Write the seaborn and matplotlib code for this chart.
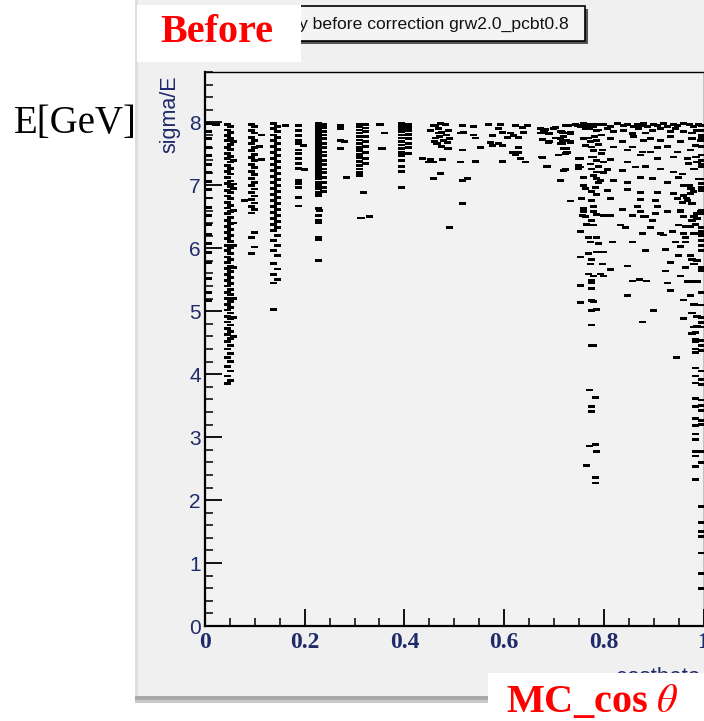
import matplotlib
matplotlib.use("Agg")
import matplotlib.pyplot as plt
from matplotlib.patches import Rectangle
from matplotlib.ticker import FixedLocator, MultipleLocator
import pandas as pd
import seaborn as sns

# ---------------- data: sigma/E versus MC cos(theta) ----------------
# narrow vertical bands at fixed cos(theta)
band_x = [0.006, 0.045, 0.051, 0.057, 0.093, 0.099, 0.138, 0.145, 0.187,
          0.227, 0.237, 0.310, 0.322, 0.395, 0.408, 0.997, 0.984]
band_y = [
    [7.98, 7.86, 7.74, 7.60, 7.47, 7.33, 7.20, 7.06, 6.93, 6.80, 6.65, 6.52,
     6.38, 6.22, 6.08, 5.93, 5.78, 5.52, 5.30, 5.17],
    [7.97, 7.88, 7.79, 7.71, 7.60, 7.51, 7.42, 7.31, 7.22, 7.12, 7.03, 6.92,
     6.83, 6.73, 6.64, 6.55, 6.44, 6.35, 6.25, 6.16, 6.05, 5.96, 5.86, 5.77,
     5.68, 5.58, 5.49, 5.40, 5.30, 5.20, 5.11, 5.02, 4.92, 4.83, 4.72, 4.63,
     4.52, 4.40, 4.27, 4.12, 3.97, 3.85],
    [7.93, 7.84, 7.74, 7.65, 7.57, 7.46, 7.37, 7.27, 7.18, 7.07, 6.98, 6.88,
     6.79, 6.68, 6.58, 6.49, 6.39, 6.30, 6.20, 6.11, 6.01, 5.92, 5.82, 5.72,
     5.63, 5.54, 5.44, 5.35, 5.26, 5.16, 5.06, 4.97, 4.88, 4.78, 4.68, 4.57,
     4.46, 4.33, 4.20, 4.05, 3.90],
    [7.70, 7.40, 7.02, 6.95, 6.60, 6.40, 6.05, 5.70, 5.20, 4.90, 4.60],
    [7.97, 7.87, 7.76, 7.66, 7.55, 7.44, 7.33, 7.22, 7.11, 7.00, 6.88, 6.78,
     6.66, 6.56, 6.17, 5.92],
    [7.93, 7.83, 7.71, 7.60, 7.49, 7.40, 7.28, 7.17, 7.05, 6.94, 6.83, 6.72,
     6.61, 6.25, 6.02],
    [7.98, 7.90, 7.80, 7.71, 7.62, 7.52, 7.43, 7.33, 7.24, 7.14, 7.05, 6.95,
     6.86, 6.76, 6.66, 6.57, 6.47, 6.38, 6.28, 6.12, 5.97, 5.76, 5.58, 5.45],
    [7.94, 7.85, 7.76, 7.66, 7.57, 7.47, 7.38, 7.28, 7.19, 7.09, 7.00, 6.90,
     6.81, 6.71, 6.62, 6.52, 6.43, 6.33, 6.20, 6.05, 5.88, 5.67, 5.50],
    [7.95, 7.87, 7.79, 7.71, 7.67, 7.56, 7.51, 7.43, 7.35, 7.27, 7.08, 7.03,
     6.97, 6.81, 6.67],
    [7.98, 7.95, 7.91, 7.87, 7.84, 7.80, 7.76, 7.72, 7.68, 7.64, 7.60, 7.56,
     7.52, 7.48, 7.44, 7.40, 7.36, 7.31, 7.27, 7.23, 7.19, 7.14, 7.10, 7.05,
     7.00, 6.95, 6.88, 6.84, 6.63, 6.52, 6.44, 6.40, 6.17, 6.13, 5.81],
    [7.97, 7.92, 7.86, 7.80, 7.74, 7.67, 7.60, 7.53, 7.47, 7.40, 7.33, 7.26,
     7.20, 7.12, 7.05, 6.97, 6.90],
    [7.97, 7.93, 7.88, 7.83, 7.77, 7.72, 7.66, 7.60, 7.55, 7.49, 7.44, 7.38,
     7.32, 7.26, 7.20, 7.15],
    [7.96, 7.91, 7.85, 7.78, 7.70, 7.62, 7.52, 7.42, 7.35],
    [7.98, 7.94, 7.90, 7.85, 7.80, 7.75, 7.70, 7.64, 7.58, 7.52, 7.47, 7.40,
     7.30, 7.22, 6.97],
    [7.97, 7.92, 7.87, 7.81, 7.74, 7.67, 7.60, 7.50],
    [7.95, 7.87, 7.80, 7.76, 7.62, 7.48, 7.40, 7.33, 7.29, 7.10, 7.03, 6.96,
     6.92, 6.60, 6.55, 6.33, 6.27, 6.20, 6.12, 6.05, 5.97, 5.70, 5.65, 5.30,
     5.10, 4.90, 4.82, 4.75, 4.54, 4.46, 4.38, 4.05, 3.92, 3.84, 3.59, 3.50,
     3.42, 3.27, 3.20, 2.77, 2.60, 1.90, 1.65, 1.50, 1.42, 1.16, 0.83, 0.60],
    [4.66, 4.55, 4.51, 4.40, 4.35, 4.10, 3.97, 3.86, 3.61, 3.49, 3.30, 3.19,
     3.05, 2.96, 2.77, 2.70, 2.53, 2.33],
]

# isolated entries at small cos(theta)
left_pts = [
    (0.022, 7.96), (0.080, 6.76), (0.114, 7.80), (0.114, 7.41), (0.110, 7.62),
    (0.137, 5.03), (0.161, 7.95), (0.197, 7.63), (0.200, 7.25),
    (0.230, 6.60), (0.271, 7.95), (0.271, 7.90), (0.271, 7.71), (0.271, 7.59),
    (0.284, 7.13), (0.280, 7.70), (0.318, 6.89), (0.313, 6.48), (0.330, 6.50),
    (0.351, 7.97), (0.361, 7.83), (0.355, 7.59),
]

# entries between cos(theta) 0.43 and 0.75
mid_pts = [
    (0.462, 7.95), (0.468, 7.90), (0.475, 7.84), (0.470, 7.78), (0.478, 7.72),
    (0.465, 7.66), (0.482, 7.96), (0.488, 7.87), (0.484, 7.80), (0.490, 7.74),
    (0.474, 7.62), (0.460, 7.70), (0.486, 7.68), (0.458, 7.95), (0.472, 7.98),
    (0.452, 7.87), (0.468, 7.83), (0.462, 7.75), (0.478, 7.71), (0.486, 7.59),
    (0.466, 7.67), (0.452, 7.41), (0.448, 7.37), (0.436, 7.43),
    (0.516, 7.95), (0.538, 7.94), (0.518, 7.84), (0.512, 7.83), (0.538, 7.80),
    (0.542, 7.75), (0.568, 7.97), (0.592, 7.97), (0.588, 7.90), (0.596, 7.84),
    (0.576, 7.79), (0.612, 7.83), (0.618, 7.79), (0.629, 7.76), (0.622, 7.95),
    (0.647, 7.95), (0.637, 7.92), (0.639, 7.84), (0.673, 7.90), (0.683, 7.89),
    (0.673, 7.83), (0.687, 7.83), (0.703, 7.92), (0.717, 7.84), (0.723, 7.83),
    (0.729, 7.95), (0.747, 7.95), (0.733, 7.84), (0.572, 7.68), (0.576, 7.63),
    (0.588, 7.67), (0.596, 7.63), (0.606, 7.76), (0.629, 7.60), (0.552, 7.60),
    (0.677, 7.73), (0.689, 7.68), (0.703, 7.75), (0.717, 7.71), (0.717, 7.67),
    (0.733, 7.68), (0.488, 7.59), (0.516, 7.56), (0.616, 7.52), (0.629, 7.52),
    (0.622, 7.48), (0.633, 7.43), (0.643, 7.37), (0.596, 7.38), (0.542, 7.38),
    (0.512, 7.37), (0.458, 7.37), (0.476, 7.41), (0.677, 7.44), (0.709, 7.48),
    (0.719, 7.59), (0.727, 7.52), (0.749, 7.43), (0.472, 7.19), (0.458, 7.11),
    (0.516, 7.08), (0.526, 7.11), (0.687, 7.30), (0.723, 7.25), (0.713, 7.08),
    (0.749, 7.32), (0.749, 7.27), (0.516, 6.71), (0.733, 6.75), (0.490, 6.33),
    (0.680, 7.87), (0.700, 7.90), (0.690, 7.82), (0.713, 7.85), (0.720, 7.77),
    (0.733, 7.69), (0.690, 7.69), (0.713, 7.66), (0.726, 7.58), (0.723, 7.50),
    (0.676, 7.45), (0.686, 7.30), (0.713, 7.08),
]

# entries at large cos(theta)
right_pts = [
    (0.723, 7.95), (0.743, 7.97), (0.753, 7.93), (0.760, 7.98), (0.766, 7.95),
    (0.773, 7.97), (0.780, 7.93), (0.786, 7.96), (0.800, 7.97), (0.813, 7.94),
    (0.827, 7.98), (0.840, 7.95), (0.847, 7.97), (0.860, 7.93), (0.867, 7.97),
    (0.874, 7.95), (0.880, 7.98), (0.887, 7.94), (0.900, 7.97), (0.907, 7.95),
    (0.920, 7.98), (0.927, 7.94), (0.940, 7.97), (0.947, 7.95), (0.960, 7.98),
    (0.971, 7.96), (0.980, 7.93), (0.990, 7.97),
    (0.716, 7.85), (0.733, 7.82), (0.763, 7.90), (0.786, 7.87), (0.807, 7.90),
    (0.820, 7.85), (0.840, 7.87), (0.857, 7.82), (0.870, 7.90), (0.884, 7.83),
    (0.897, 7.87), (0.914, 7.90), (0.934, 7.85), (0.944, 7.90), (0.960, 7.86),
    (0.977, 7.83), (0.987, 7.87),
    (0.713, 7.74), (0.726, 7.71), (0.760, 7.74), (0.773, 7.69), (0.786, 7.71),
    (0.813, 7.74), (0.837, 7.69), (0.860, 7.77), (0.880, 7.71), (0.894, 7.74),
    (0.914, 7.71), (0.934, 7.77), (0.954, 7.69), (0.977, 7.74), (0.994, 7.71),
    (0.720, 7.58), (0.763, 7.63), (0.776, 7.61), (0.797, 7.56), (0.820, 7.61),
    (0.847, 7.56), (0.857, 7.61), (0.877, 7.53), (0.894, 7.53), (0.907, 7.60),
    (0.927, 7.62), (0.947, 7.53), (0.974, 7.56), (0.984, 7.63), (0.726, 7.53),
    (0.753, 7.42), (0.780, 7.45), (0.813, 7.41), (0.847, 7.37), (0.874, 7.48),
    (0.907, 7.42), (0.940, 7.45), (0.967, 7.42), (0.987, 7.37), (0.773, 7.34),
    (0.800, 7.37),
    (0.720, 7.24), (0.753, 7.29), (0.776, 7.26), (0.786, 7.21), (0.807, 7.25),
    (0.837, 7.24), (0.863, 7.29), (0.884, 7.30), (0.914, 7.26), (0.940, 7.21),
    (0.957, 7.18), (0.981, 7.26),
    (0.760, 7.13), (0.786, 7.11), (0.820, 7.08), (0.847, 7.05), (0.874, 7.13),
    (0.897, 7.11), (0.927, 7.05), (0.950, 7.13), (0.971, 7.00), (0.760, 7.00),
    (0.793, 7.08),
    (0.763, 6.95), (0.807, 6.92), (0.847, 6.93), (0.874, 6.89), (0.907, 6.89),
    (0.940, 6.87), (0.960, 6.84), (0.974, 6.87), (0.783, 6.97),
    (0.756, 6.79), (0.776, 6.76), (0.813, 6.79), (0.874, 6.77), (0.904, 6.76),
    (0.947, 6.79), (0.957, 6.73), (0.967, 6.76), (0.977, 6.71), (0.760, 6.63),
    (0.780, 6.66), (0.837, 6.61), (0.867, 6.66), (0.907, 6.66), (0.954, 6.60),
    (0.927, 6.58),
    (0.763, 6.50), (0.800, 6.52), (0.880, 6.50), (0.897, 6.45), (0.981, 6.50),
    (0.987, 6.55),
    (0.772, 7.90), (0.790, 7.88), (0.795, 7.80), (0.782, 7.78), (0.770, 7.75),
    (0.790, 7.65), (0.780, 7.55), (0.795, 7.50), (0.785, 7.40), (0.775, 7.45),
    (0.790, 7.30), (0.800, 7.20), (0.780, 7.15), (0.790, 7.05), (0.775, 6.90),
    (0.785, 6.85), (0.960, 7.00), (0.975, 6.95), (0.965, 6.80), (0.980, 6.90),
    (0.970, 7.35), (0.985, 7.45), (0.990, 7.10),
    (0.760, 6.59), (0.780, 6.58), (0.786, 6.54), (0.758, 6.52), (0.813, 6.52),
    (0.857, 6.52), (0.874, 6.58), (0.884, 6.50), (0.897, 6.44), (0.904, 6.55),
    (0.954, 6.59), (0.960, 6.50), (0.977, 6.44), (0.987, 6.47), (0.994, 6.58),
    (0.776, 6.44), (0.766, 6.38), (0.780, 6.37), (0.833, 6.37), (0.843, 6.33),
    (0.894, 6.33), (0.877, 6.24), (0.914, 6.23), (0.937, 6.27), (0.950, 6.37),
    (0.964, 6.34), (0.974, 6.35), (0.984, 6.38),
    (0.754, 6.27), (0.770, 6.17), (0.786, 6.17), (0.773, 6.10), (0.790, 6.07),
    (0.817, 6.10), (0.857, 6.10), (0.920, 6.21), (0.960, 6.23), (0.964, 6.17),
    (0.964, 6.10), (0.944, 6.10), (0.954, 6.03), (0.981, 6.24), (0.994, 6.24),
    (0.786, 5.94), (0.800, 5.94), (0.770, 5.92), (0.753, 5.86), (0.776, 5.82),
    (0.773, 5.75), (0.797, 5.75), (0.813, 5.66), (0.847, 5.72), (0.884, 5.97),
    (0.924, 5.98), (0.934, 5.78), (0.924, 5.64), (0.950, 5.89), (0.974, 5.89),
    (0.977, 5.82), (0.987, 5.81), (0.964, 5.69), (0.981, 5.75),
    (0.770, 5.59), (0.780, 5.56), (0.793, 5.59), (0.800, 5.56), (0.776, 5.49),
    (0.776, 5.45), (0.776, 5.36), (0.753, 5.41), (0.857, 5.48), (0.872, 5.50),
    (0.886, 5.48), (0.927, 5.45), (0.934, 5.33), (0.954, 5.56), (0.967, 5.47),
    (0.977, 5.47), (0.987, 5.47),
    (0.847, 5.25), (0.776, 5.17), (0.780, 5.15), (0.753, 5.14), (0.786, 5.03),
    (0.900, 5.01), (0.877, 4.83), (0.960, 5.18), (0.974, 5.25), (0.981, 5.11),
    (0.977, 4.97), (0.960, 4.88), (0.987, 4.92), (0.987, 4.76), (0.981, 4.75),
    (0.977, 4.65), (0.946, 4.27),
]

# low-energy tail near cos(theta) = 0.78
tail_pts = [
    (0.776, 5.01), (0.776, 4.78), (0.776, 4.46), (0.780, 4.45), (0.772, 3.75),
    (0.783, 3.63), (0.776, 3.49), (0.776, 3.41), (0.772, 2.86), (0.783, 2.88),
    (0.786, 2.77), (0.765, 2.55), (0.783, 2.36), (0.783, 2.27),
]

x_ticks = [0, 0.2, 0.4, 0.6, 0.8, 1.0]
x_tick_labels = ["0", "0.2", "0.4", "0.6", "0.8", "1"]
y_ticks = [0, 1, 2, 3, 4, 5, 6, 7, 8]
y_tick_labels = ["0", "1", "2", "3", "4", "5", "6", "7", "8"]

# ---------------- assemble table ----------------
xs, ys = [], []
for bx, vals in zip(band_x, band_y):
    xs += [bx] * len(vals)
    ys += vals
for pts in (left_pts, mid_pts, right_pts, tail_pts):
    for px_, py_ in pts:
        xs.append(px_)
        ys.append(py_)
df = pd.DataFrame({"costheta": xs, "sigmaE": ys})

# ---------------- style ----------------
sns.set_style("ticks")
plt.rcParams["font.family"] = ["Liberation Sans", "DejaVu Sans"]
plt.rcParams["mathtext.fontset"] = "stix"

W, H = 704, 721
NAVY = "#1f2a6b"
fig = plt.figure(figsize=(W / 100, H / 100), dpi=100)
fig.patch.set_facecolor("white")


def fx(p):
    return p / W


def fy(p):
    return 1 - p / H


def frect(x0, y0, x1, y1, **kw):
    r = Rectangle((fx(x0), fy(y1)), fx(x1) - fx(x0), fy(y0) - fy(y1),
                  transform=fig.transFigure, **kw)
    fig.add_artist(r)
    return r


# canvas with bevelled border
frect(135, 0, 704, 698, facecolor="#f0f0f0", edgecolor="none", zorder=0)
frect(135, 0, 138, 698, facecolor="#dedede", edgecolor="none", zorder=0.1)
frect(135, 696, 704, 703, facecolor="#a9a9a9", edgecolor="none", zorder=0.1)
frect(135, 700, 704, 703, facecolor="#cacaca", edgecolor="none", zorder=0.2)

# plot frame
ax = fig.add_axes([fx(205), fy(626), fx(703.5) - fx(205), fy(72) - fy(626)])
ax.set_facecolor("#f2f2f2")

dash = [(-3.2, -1.25), (3.2, -1.25), (3.2, 1.25), (-3.2, 1.25)]
sns.scatterplot(data=df, x="costheta", y="sigmaE", marker=dash, s=26,
                color="black", linewidth=0, edgecolor="none", ax=ax,
                legend=False)

ax.set_xlim(0, 1)
ax.set_ylim(0, 8.8)
ax.set_xlabel("")
ax.set_ylabel("")

ax.xaxis.set_major_locator(FixedLocator(x_ticks))
ax.set_xticklabels(x_tick_labels)
ax.xaxis.set_minor_locator(MultipleLocator(0.05))
ax.yaxis.set_major_locator(FixedLocator(y_ticks))
ax.set_yticklabels(y_tick_labels)
ax.yaxis.set_minor_locator(MultipleLocator(0.2))

ax.tick_params(which="both", direction="in", top=False, right=False,
               color="black")
ax.tick_params(which="major", length=12, width=1.3)
ax.tick_params(which="minor", length=5.5, width=1.1)
ax.tick_params(axis="y", pad=3, labelsize=15, labelcolor=NAVY)
ax.tick_params(axis="x", pad=4, labelsize=17, labelcolor=NAVY)
for lab in ax.get_xticklabels():
    lab.set_fontfamily("Liberation Serif")
    lab.set_fontweight("bold")

for side in ("left", "bottom"):
    ax.spines[side].set_linewidth(1.6)
for side in ("top", "right"):
    ax.spines[side].set_linewidth(1.0)
for s in ax.spines.values():
    s.set_color("black")

# axis titles
fig.text(fx(170), fy(114), "sigma/E", rotation=90, ha="center", va="center",
         fontsize=15.5, color=NAVY, family="Liberation Sans")
fig.text(fx(700), fy(667), "costheta", ha="right", va="top",
         fontsize=16, color=NAVY, family="Liberation Sans", zorder=3)

# title pave with shadow
frect(290, 9, 588, 44, facecolor="#555555", edgecolor="none", zorder=2)
frect(287, 6, 585, 41, facecolor="#f4f4f4", edgecolor="black",
      linewidth=1.2, zorder=2.5)
fig.text(fx(299), fy(24), "y before correction grw2.0_pcbt0.8",
         ha="left", va="center", fontsize=12.6, color="#111111",
         family="Liberation Sans", zorder=3)

# annotation boxes
frect(137, 5, 301, 62, facecolor="white", edgecolor="none", zorder=5)
fig.text(fx(217), fy(33), "Before", ha="center", va="center",
         fontsize=29, fontweight="bold", color="#ff0000",
         family="Liberation Serif", zorder=6)

frect(488, 673, 704, 721, facecolor="white", edgecolor="none", zorder=5)
fig.text(fx(506), fy(712), r"MC_cos $\theta$", ha="left", va="baseline",
         fontsize=29, fontweight="bold", color="#ff0000",
         family="Liberation Serif", zorder=6)

fig.text(fx(14), fy(124), "E[GeV]", ha="left", va="center", fontsize=28,
         color="black", family="Liberation Serif")

fig.savefig("out.png", dpi=100, facecolor="white")
